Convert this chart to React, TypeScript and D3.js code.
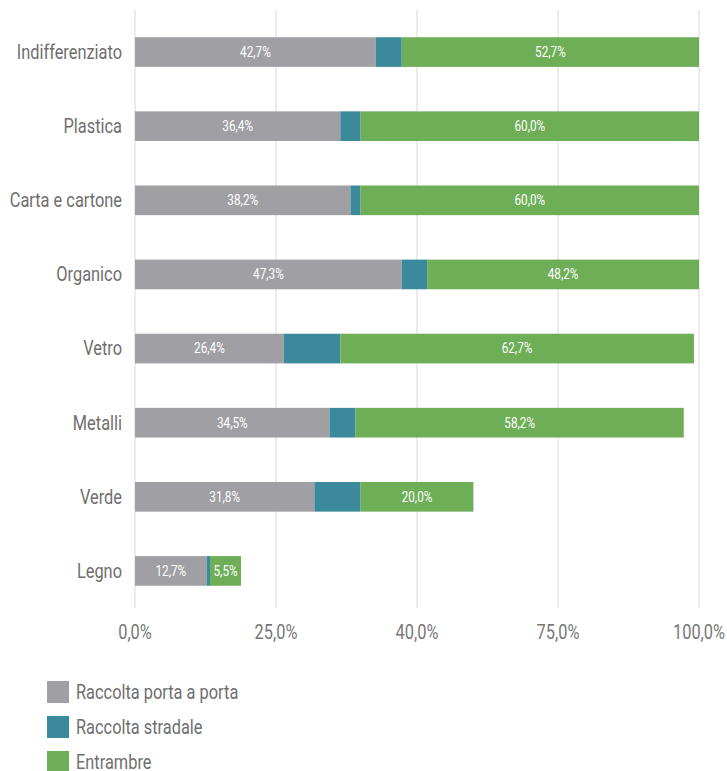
import React from "react";
import * as d3 from "d3";

const categories = ["Indifferenziato", "Plastica", "Carta e cartone", "Organico", "Vetro", "Metalli", "Verde", "Legno"];
const portaAPorta = [42.7, 36.4, 38.2, 47.3, 26.4, 34.5, 31.8, 12.7];
const stradale = [4.6, 3.6, 1.8, 4.5, 10.0, 4.6, 8.2, 0.6];
const entrambe = [52.7, 60.0, 60.0, 48.2, 62.7, 58.2, 20.0, 5.5];
const tickValues = [0, 25, 50, 75, 100];
const tickLabels = ["0,0%", "25,0%", "40,0%", "75,0%", "100,0%"];
const seriesNames = ["Raccolta porta a porta", "Raccolta stradale", "Entrambre"];
const colors = ["#A0A0A4", "#3A8A9C", "#6DAE57"];

const FONT = "Roboto, 'DejaVu Sans', sans-serif";
const SX = 0.84;

function CText(props: { x: number; y: number; anchor?: "start" | "middle" | "end"; fill: string; size: number; children: React.ReactNode }) {
  return (
    <text
      transform={`translate(${props.x},${props.y}) scale(${SX},1)`}
      dy="0.35em"
      textAnchor={props.anchor || "start"}
      fill={props.fill}
      fontSize={props.size}
    >
      {props.children}
    </text>
  );
}

export default function App() {
  const W = 727, H = 771;
  const x = d3.scaleLinear().domain([0, 100]).range([135, 699]);
  const y = d3.scaleBand<string>().domain(categories).range([15, 608]).paddingInner(0.6).paddingOuter(0.3);
  const rows = categories.map((c, i) => ({ cat: c, vals: [portaAPorta[i], stradale[i], entrambe[i]] }));
  const fmt = (v: number) => v.toFixed(1).replace(".", ",") + "%";
  return (
    <svg width={W} height={H} style={{ position: "absolute", left: 0, top: 0 }} fontFamily={FONT}>
      <rect width={W} height={H} fill="#fff" />
      {tickValues.map((t) => (
        <line key={t} x1={x(t)} x2={x(t)} y1={10} y2={608} stroke="#D9D9D9" strokeWidth={1} />
      ))}
      {rows.map((r) => {
        let acc = 0;
        const y0 = y(r.cat)!;
        const bh = y.bandwidth();
        const labels: React.ReactNode[] = [];
        let a = 0;
        r.vals.forEach((v, k) => {
          const cx = x(a + v / 2);
          a += v;
          if (k !== 1) {
            labels.push(
              <CText key={k} x={cx} y={y0 + bh / 2} anchor="middle" fill="#fff" size={14}>
                {fmt(v)}
              </CText>
            );
          }
        });
        return (
          <g key={r.cat}>
            {r.vals.map((v, k) => {
              const x0 = x(acc);
              acc += v;
              const x1 = x(acc);
              return <rect key={k} x={x0} y={y0} width={x1 - x0} height={bh} fill={colors[k]} />;
            })}
            {labels}
            <CText x={122} y={y0 + bh / 2} anchor="end" fill="#6E6E6E" size={19.5}>
              {r.cat}
            </CText>
          </g>
        );
      })}
      {tickValues.map((t, i) => (
        <CText key={t} x={x(t)} y={632} anchor="middle" fill="#777" size={19.5}>
          {tickLabels[i]}
        </CText>
      ))}
      {seriesNames.map((s, i) => (
        <g key={s} transform={`translate(47, ${681 + i * 35})`}>
          <rect width={22} height={22} fill={colors[i]} />
          <CText x={29} y={11} fill="#6E6E6E" size={19.5}>
            {s}
          </CText>
        </g>
      ))}
    </svg>
  );
}
